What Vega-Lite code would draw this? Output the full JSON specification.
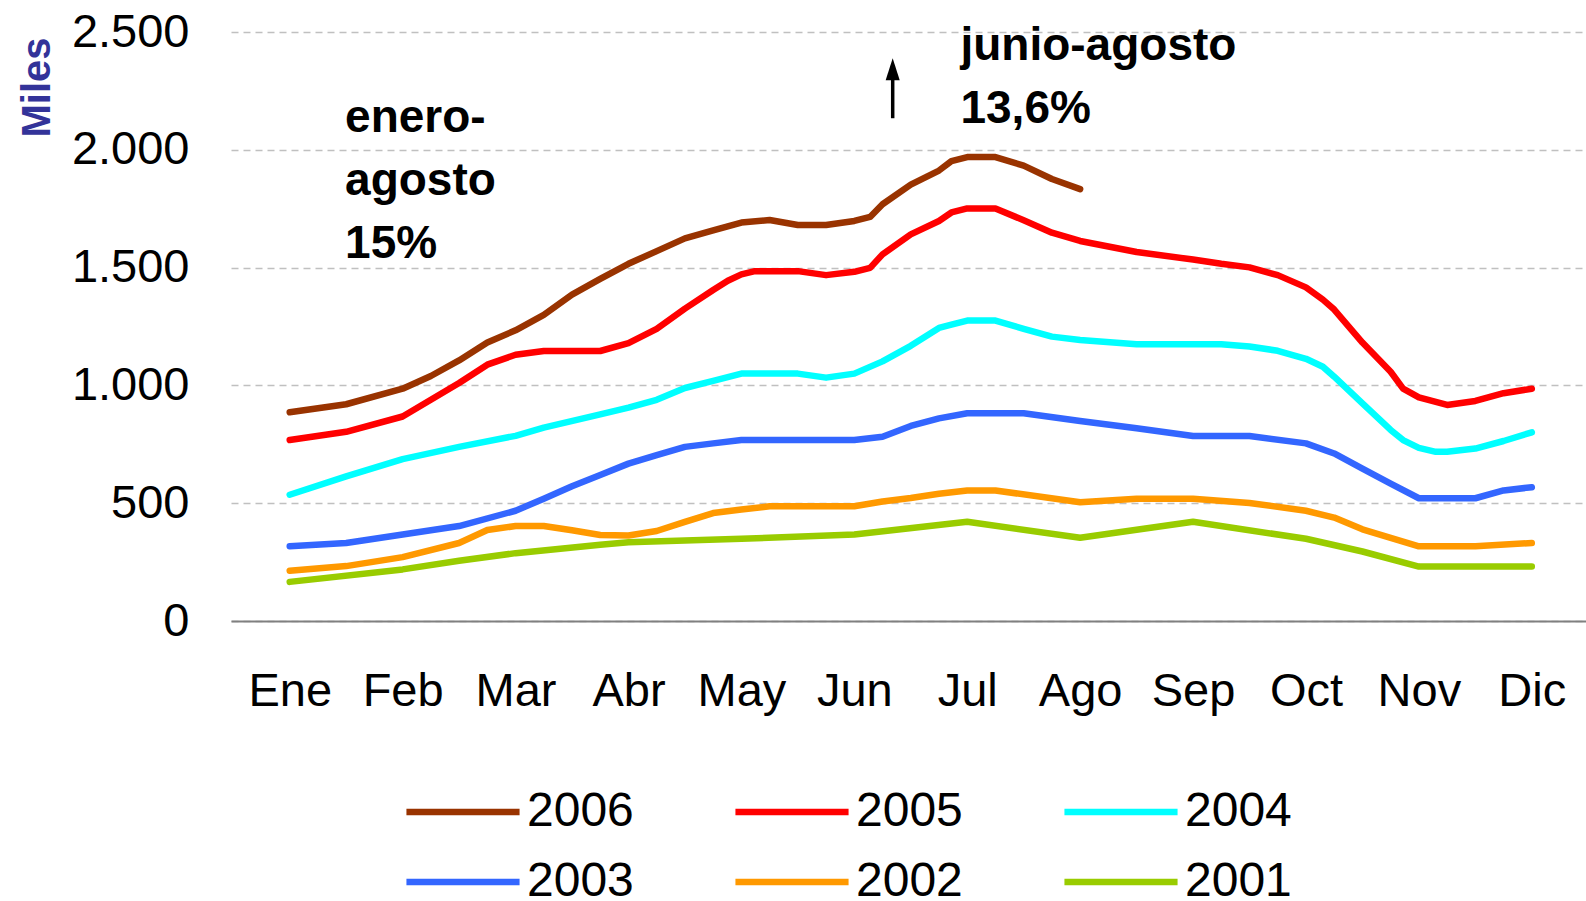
{
  "$schema": "https://vega.github.io/schema/vega-lite/v6.json",
  "autosize": "none",
  "width": 1355,
  "height": 589,
  "padding": {"left": 231, "top": 32, "right": 0, "bottom": 280},
  "background": "white",
  "config": {
    "view": {"stroke": null},
    "font": "Liberation Sans",
    "axis": {"labelFont": "Liberation Sans", "labelFontSize": 47, "labelColor": "#000000", "ticks": false}
  },
  "datasets": {
    "lines": [
      {"m":0,"v":886,"a":"2006"},{"m":0.5,"v":920,"a":"2006"},{"m":1,"v":986,"a":"2006"},{"m":1.25,"v":1040,"a":"2006"},{"m":1.5,"v":1106,"a":"2006"},{"m":1.75,"v":1182,"a":"2006"},{"m":2,"v":1234,"a":"2006"},{"m":2.25,"v":1299,"a":"2006"},{"m":2.5,"v":1385,"a":"2006"},{"m":2.75,"v":1452,"a":"2006"},{"m":3,"v":1516,"a":"2006"},{"m":3.25,"v":1570,"a":"2006"},{"m":3.5,"v":1624,"a":"2006"},{"m":3.75,"v":1658,"a":"2006"},{"m":4,"v":1691,"a":"2006"},{"m":4.25,"v":1702,"a":"2006"},{"m":4.5,"v":1681,"a":"2006"},{"m":4.75,"v":1681,"a":"2006"},{"m":5,"v":1698,"a":"2006"},{"m":5.14,"v":1715,"a":"2006"},{"m":5.25,"v":1769,"a":"2006"},{"m":5.5,"v":1852,"a":"2006"},{"m":5.75,"v":1912,"a":"2006"},{"m":5.86,"v":1952,"a":"2006"},{"m":6,"v":1969,"a":"2006"},{"m":6.25,"v":1969,"a":"2006"},{"m":6.5,"v":1933,"a":"2006"},{"m":6.75,"v":1876,"a":"2006"},{"m":7,"v":1833,"a":"2006"},
      {"m":0,"v":768,"a":"2005"},{"m":0.5,"v":803,"a":"2005"},{"m":1,"v":868,"a":"2005"},{"m":1.25,"v":939,"a":"2005"},{"m":1.5,"v":1010,"a":"2005"},{"m":1.75,"v":1088,"a":"2005"},{"m":2,"v":1130,"a":"2005"},{"m":2.25,"v":1146,"a":"2005"},{"m":2.75,"v":1146,"a":"2005"},{"m":3,"v":1179,"a":"2005"},{"m":3.25,"v":1240,"a":"2005"},{"m":3.5,"v":1326,"a":"2005"},{"m":3.75,"v":1405,"a":"2005"},{"m":3.88,"v":1444,"a":"2005"},{"m":4,"v":1471,"a":"2005"},{"m":4.12,"v":1485,"a":"2005"},{"m":4.5,"v":1485,"a":"2005"},{"m":4.75,"v":1468,"a":"2005"},{"m":5,"v":1482,"a":"2005"},{"m":5.14,"v":1499,"a":"2005"},{"m":5.25,"v":1556,"a":"2005"},{"m":5.5,"v":1641,"a":"2005"},{"m":5.75,"v":1698,"a":"2005"},{"m":5.86,"v":1734,"a":"2005"},{"m":6,"v":1751,"a":"2005"},{"m":6.25,"v":1751,"a":"2005"},{"m":6.5,"v":1701,"a":"2005"},{"m":6.75,"v":1648,"a":"2005"},{"m":7,"v":1613,"a":"2005"},{"m":7.5,"v":1566,"a":"2005"},{"m":8,"v":1534,"a":"2005"},{"m":8.25,"v":1516,"a":"2005"},{"m":8.5,"v":1501,"a":"2005"},{"m":8.75,"v":1468,"a":"2005"},{"m":9,"v":1416,"a":"2005"},{"m":9.15,"v":1364,"a":"2005"},{"m":9.25,"v":1322,"a":"2005"},{"m":9.5,"v":1182,"a":"2005"},{"m":9.75,"v":1058,"a":"2005"},{"m":9.86,"v":986,"a":"2005"},{"m":10,"v":949,"a":"2005"},{"m":10.25,"v":917,"a":"2005"},{"m":10.5,"v":934,"a":"2005"},{"m":10.75,"v":967,"a":"2005"},{"m":11,"v":986,"a":"2005"},
      {"m":0,"v":536,"a":"2004"},{"m":0.5,"v":614,"a":"2004"},{"m":1,"v":687,"a":"2004"},{"m":1.5,"v":739,"a":"2004"},{"m":2,"v":786,"a":"2004"},{"m":2.25,"v":821,"a":"2004"},{"m":2.75,"v":877,"a":"2004"},{"m":3,"v":906,"a":"2004"},{"m":3.25,"v":939,"a":"2004"},{"m":3.5,"v":989,"a":"2004"},{"m":3.75,"v":1019,"a":"2004"},{"m":4,"v":1050,"a":"2004"},{"m":4.5,"v":1050,"a":"2004"},{"m":4.75,"v":1033,"a":"2004"},{"m":5,"v":1050,"a":"2004"},{"m":5.25,"v":1102,"a":"2004"},{"m":5.5,"v":1168,"a":"2004"},{"m":5.75,"v":1244,"a":"2004"},{"m":5.86,"v":1258,"a":"2004"},{"m":6,"v":1275,"a":"2004"},{"m":6.25,"v":1275,"a":"2004"},{"m":6.5,"v":1240,"a":"2004"},{"m":6.75,"v":1207,"a":"2004"},{"m":7,"v":1193,"a":"2004"},{"m":7.5,"v":1175,"a":"2004"},{"m":8.25,"v":1175,"a":"2004"},{"m":8.5,"v":1165,"a":"2004"},{"m":8.75,"v":1147,"a":"2004"},{"m":9,"v":1113,"a":"2004"},{"m":9.15,"v":1079,"a":"2004"},{"m":9.25,"v":1037,"a":"2004"},{"m":9.5,"v":924,"a":"2004"},{"m":9.75,"v":811,"a":"2004"},{"m":9.86,"v":768,"a":"2004"},{"m":10,"v":735,"a":"2004"},{"m":10.15,"v":718,"a":"2004"},{"m":10.25,"v":718,"a":"2004"},{"m":10.5,"v":732,"a":"2004"},{"m":10.75,"v":764,"a":"2004"},{"m":11,"v":801,"a":"2004"},
      {"m":0,"v":317,"a":"2003"},{"m":0.5,"v":331,"a":"2003"},{"m":1,"v":367,"a":"2003"},{"m":1.5,"v":403,"a":"2003"},{"m":2,"v":468,"a":"2003"},{"m":2.25,"v":519,"a":"2003"},{"m":2.5,"v":572,"a":"2003"},{"m":2.75,"v":620,"a":"2003"},{"m":3,"v":668,"a":"2003"},{"m":3.25,"v":704,"a":"2003"},{"m":3.5,"v":739,"a":"2003"},{"m":3.75,"v":754,"a":"2003"},{"m":4,"v":768,"a":"2003"},{"m":5,"v":768,"a":"2003"},{"m":5.25,"v":782,"a":"2003"},{"m":5.5,"v":828,"a":"2003"},{"m":5.75,"v":860,"a":"2003"},{"m":6,"v":882,"a":"2003"},{"m":6.5,"v":882,"a":"2003"},{"m":7,"v":849,"a":"2003"},{"m":7.5,"v":818,"a":"2003"},{"m":8,"v":785,"a":"2003"},{"m":8.5,"v":785,"a":"2003"},{"m":9,"v":754,"a":"2003"},{"m":9.25,"v":711,"a":"2003"},{"m":9.5,"v":647,"a":"2003"},{"m":9.75,"v":583,"a":"2003"},{"m":10,"v":521,"a":"2003"},{"m":10.5,"v":521,"a":"2003"},{"m":10.75,"v":554,"a":"2003"},{"m":11,"v":568,"a":"2003"},
      {"m":0,"v":213,"a":"2002"},{"m":0.5,"v":233,"a":"2002"},{"m":1,"v":271,"a":"2002"},{"m":1.5,"v":331,"a":"2002"},{"m":1.75,"v":386,"a":"2002"},{"m":2,"v":403,"a":"2002"},{"m":2.25,"v":403,"a":"2002"},{"m":2.5,"v":385,"a":"2002"},{"m":2.75,"v":365,"a":"2002"},{"m":3,"v":363,"a":"2002"},{"m":3.25,"v":382,"a":"2002"},{"m":3.5,"v":421,"a":"2002"},{"m":3.75,"v":458,"a":"2002"},{"m":4,"v":473,"a":"2002"},{"m":4.25,"v":487,"a":"2002"},{"m":5,"v":487,"a":"2002"},{"m":5.25,"v":507,"a":"2002"},{"m":5.5,"v":522,"a":"2002"},{"m":5.75,"v":540,"a":"2002"},{"m":6,"v":554,"a":"2002"},{"m":6.25,"v":554,"a":"2002"},{"m":7,"v":504,"a":"2002"},{"m":7.5,"v":519,"a":"2002"},{"m":8,"v":519,"a":"2002"},{"m":8.5,"v":501,"a":"2002"},{"m":9,"v":468,"a":"2002"},{"m":9.25,"v":439,"a":"2002"},{"m":9.5,"v":389,"a":"2002"},{"m":9.75,"v":353,"a":"2002"},{"m":10,"v":317,"a":"2002"},{"m":10.5,"v":317,"a":"2002"},{"m":11,"v":331,"a":"2002"},
      {"m":0,"v":166,"a":"2001"},{"m":1,"v":219,"a":"2001"},{"m":1.5,"v":256,"a":"2001"},{"m":2,"v":288,"a":"2001"},{"m":2.75,"v":324,"a":"2001"},{"m":3,"v":334,"a":"2001"},{"m":4,"v":349,"a":"2001"},{"m":5,"v":367,"a":"2001"},{"m":6,"v":421,"a":"2001"},{"m":7,"v":353,"a":"2001"},{"m":8,"v":421,"a":"2001"},{"m":9,"v":349,"a":"2001"},{"m":9.5,"v":295,"a":"2001"},{"m":10,"v":231,"a":"2001"},{"m":11,"v":231,"a":"2001"}
    ],
    "notes": [
      {"m":0.49,"v":2075,"t":"enero-\nagosto\n15%"},
      {"m":5.94,"v":2381,"t":"junio-agosto\n13,6%"}
    ],
    "arrow": [
      {"m":5.34,"v":2134,"v2":2330,"h":2342}
    ]
  },
  "layer": [
    {
      "data": {"name": "lines"},
      "mark": {"type": "line", "strokeWidth": 6.5, "strokeCap": "round", "strokeJoin": "round"},
      "encoding": {
        "x": {
          "field": "m", "type": "quantitative",
          "scale": {"domain": [-0.52, 11.48], "nice": false, "zero": false},
          "axis": {
            "title": null, "values": [0,1,2,3,4,5,6,7,8,9,10,11],
            "labelExpr": "['Ene','Feb','Mar','Abr','May','Jun','Jul','Ago','Sep','Oct','Nov','Dic'][datum.value]",
            "grid": false, "domain": true, "domainColor": "#808080", "domainWidth": 2,
            "labelPadding": 84, "labelBaseline": "alphabetic", "labelFlush": false, "labelOverlap": false
          }
        },
        "y": {
          "field": "v", "type": "quantitative",
          "scale": {"domain": [0, 2500], "nice": false},
          "axis": {
            "title": "Miles", "values": [0,500,1000,1500,2000,2500],
            "labelExpr": "replace(format(datum.value, ','), ',', '.')",
            "domain": false, "grid": true, "gridColor": "#c0c0c0", "gridDash": [7, 5], "gridWidth": 1.5,
            "labelPadding": 42, "labelFlush": false, "labelOverlap": false,
            "titleFont": "Liberation Sans", "titleFontSize": 40, "titleFontWeight": "bold", "titleColor": "#333399",
            "titleAngle": -90, "titleX": -182, "titleY": 5, "titleAlign": "right", "titleBaseline": "alphabetic"
          }
        },
        "color": {
          "field": "a", "type": "nominal",
          "scale": {"domain": ["2006","2005","2004","2003","2002","2001"], "range": ["#993300","#ff0000","#00ffff","#3366ff","#ff9900","#99cc00"]},
          "legend": {
            "title": null, "orient": "none", "legendX": 168, "legendY": 756, "direction": "horizontal", "columns": 3,
            "symbolType": "M-4,0H4", "symbolSize": 800, "symbolStrokeWidth": 6.5, "symbolOffset": 40,
            "labelOffset": 40, "labelFont": "Liberation Sans", "labelFontSize": 48, "labelColor": "#000000",
            "columnPadding": 88, "rowPadding": 22, "padding": 0
          }
        }
      }
    },
    {
      "data": {"name": "notes"},
      "mark": {"type": "text", "align": "left", "baseline": "alphabetic", "font": "Liberation Sans", "fontSize": 46, "fontWeight": "bold", "color": "#000000", "lineBreak": "\n", "lineHeight": 63},
      "encoding": {
        "x": {"field": "m", "type": "quantitative"},
        "y": {"field": "v", "type": "quantitative"},
        "text": {"field": "t"}
      }
    },
    {
      "data": {"name": "arrow"},
      "mark": {"type": "rule", "color": "#000000", "strokeWidth": 3.5},
      "encoding": {
        "x": {"field": "m", "type": "quantitative"},
        "y": {"field": "v", "type": "quantitative"},
        "y2": {"field": "v2"}
      }
    },
    {
      "data": {"name": "arrow"},
      "mark": {"type": "point", "shape": "M0,-1L0.64,1L-0.64,1Z", "filled": true, "color": "#000000", "opacity": 1, "size": 484},
      "encoding": {
        "x": {"field": "m", "type": "quantitative"},
        "y": {"field": "h", "type": "quantitative"}
      }
    }
  ]
}
